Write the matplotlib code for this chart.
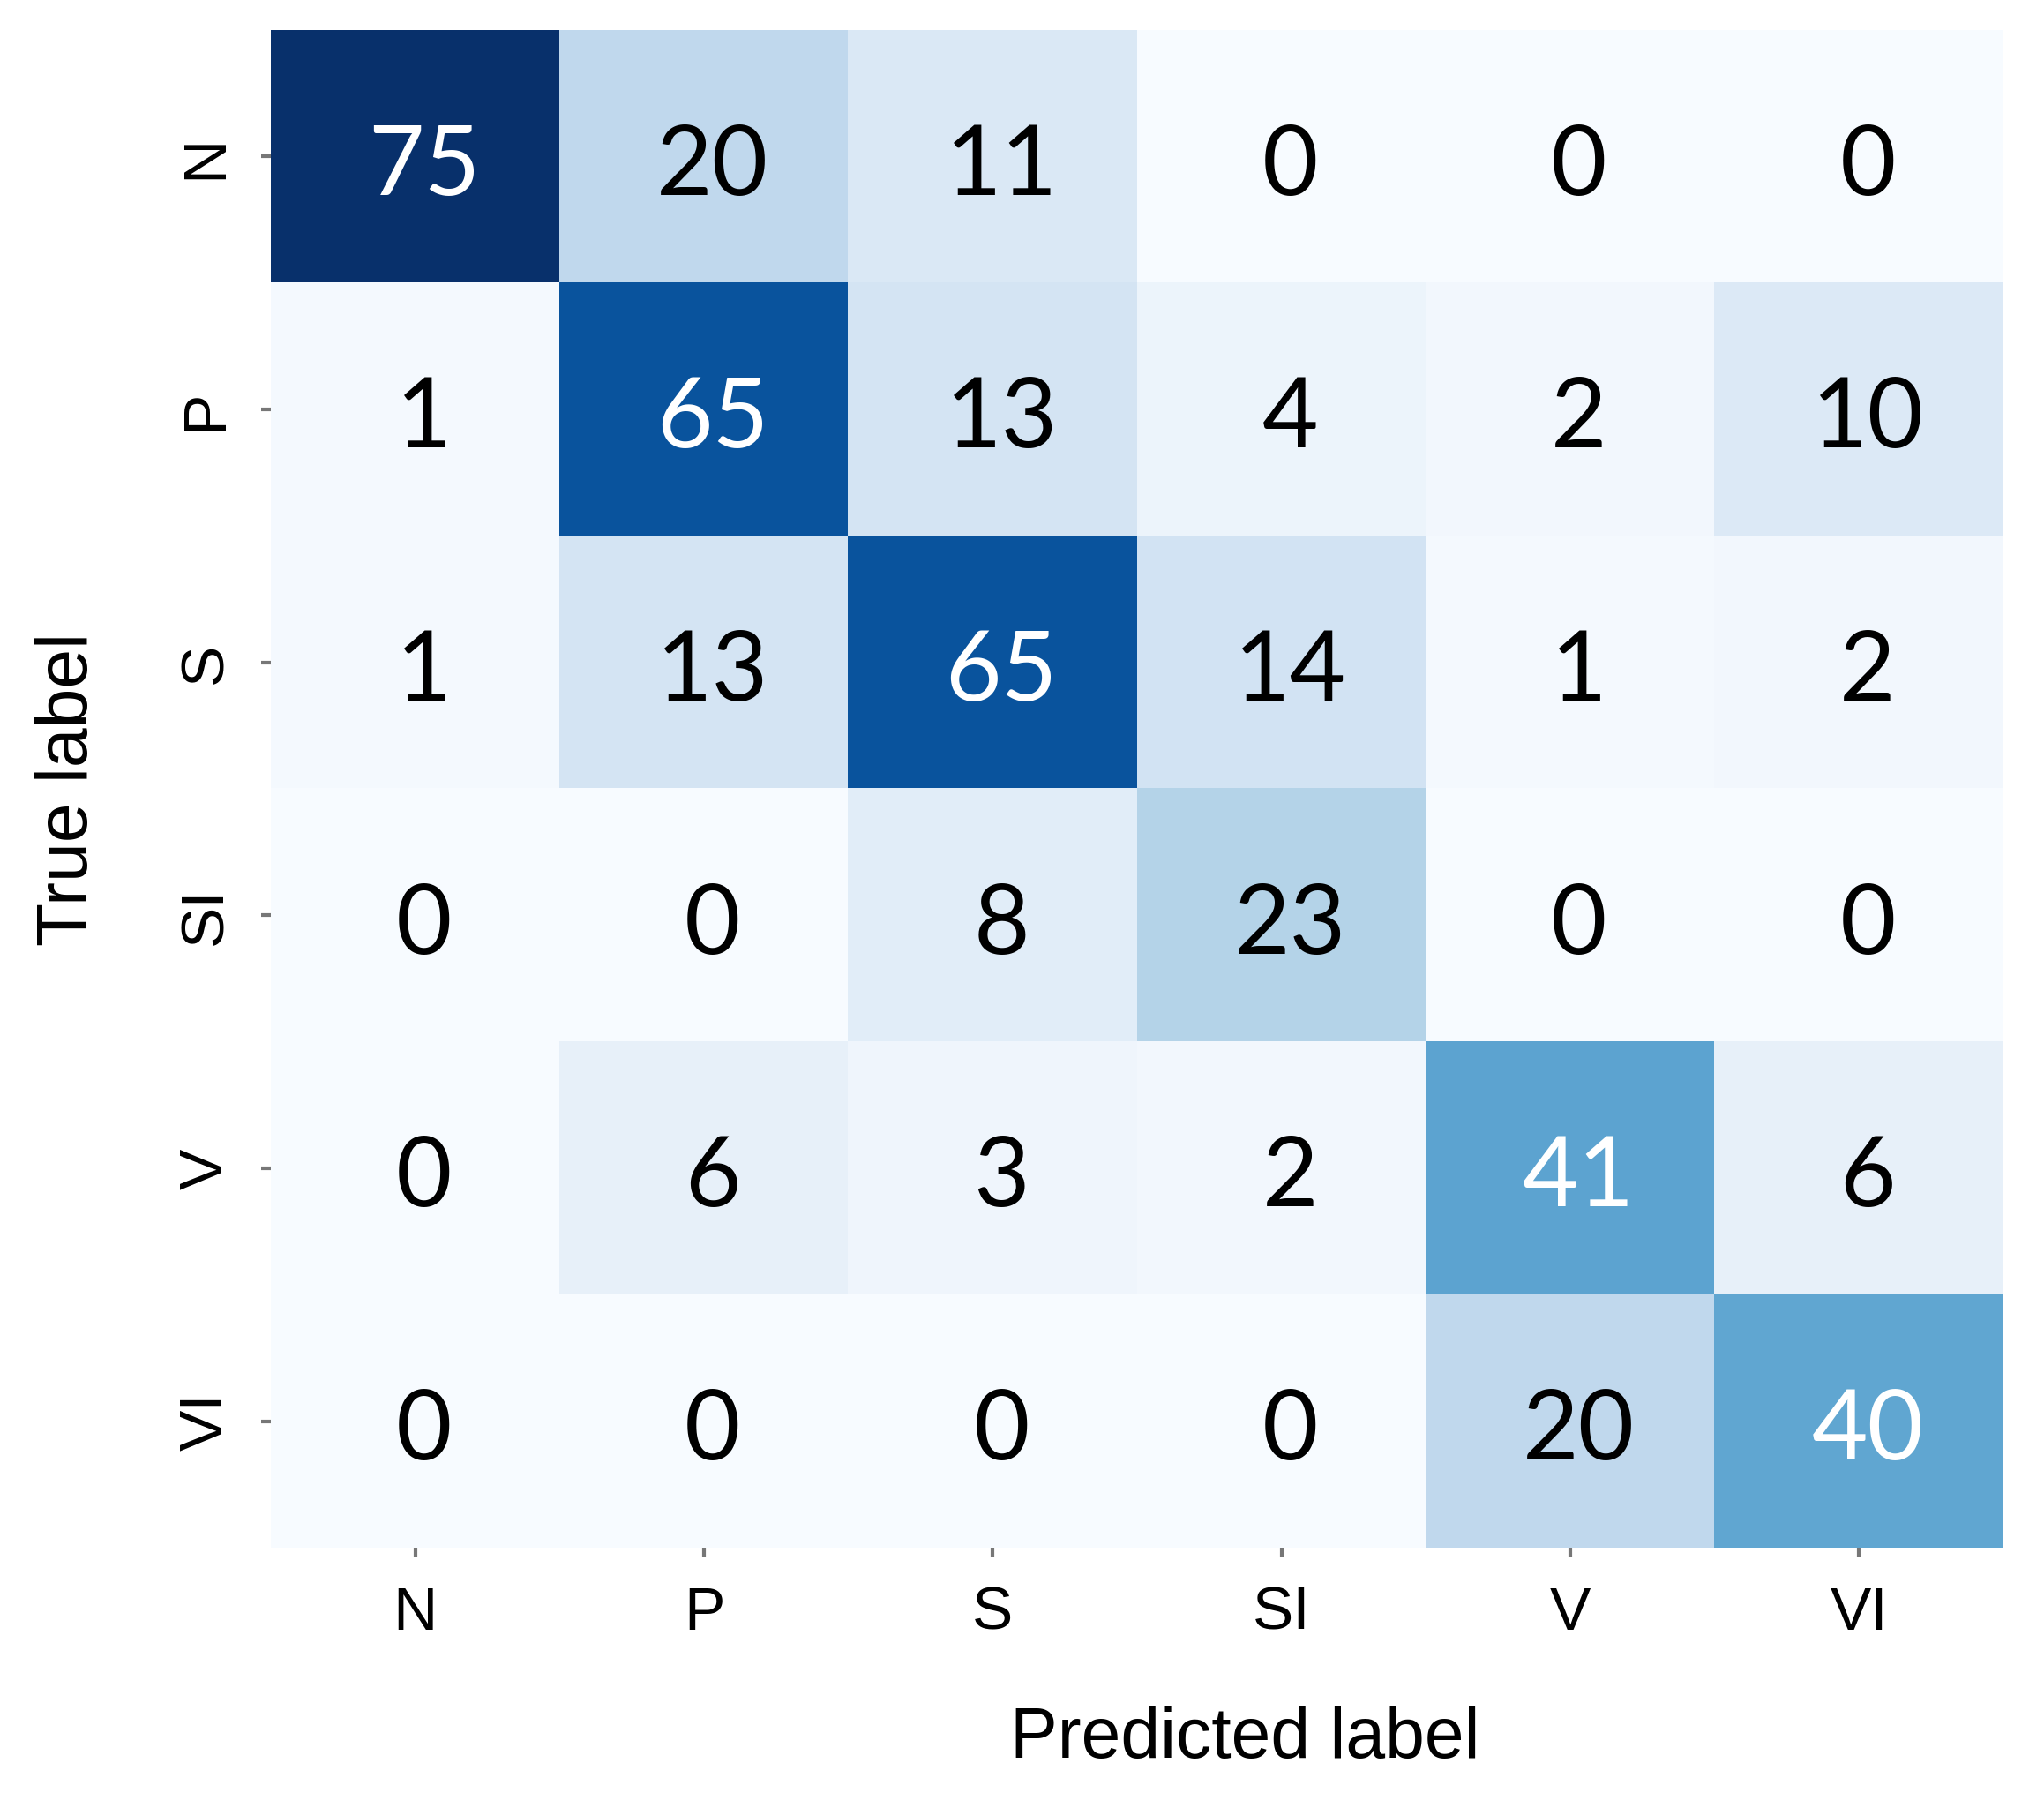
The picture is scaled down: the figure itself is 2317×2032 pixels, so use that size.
import numpy as np
import matplotlib
matplotlib.use("Agg")
import matplotlib.pyplot as plt

# class labels and confusion matrix counts (rows = true, cols = predicted)
labels = ["N", "P", "S", "SI", "V", "VI"]
row_N = [75, 20, 11, 0, 0, 0]
row_P = [1, 65, 13, 4, 2, 10]
row_S = [1, 13, 65, 14, 1, 2]
row_SI = [0, 0, 8, 23, 0, 0]
row_V = [0, 6, 3, 2, 41, 6]
row_VI = [0, 0, 0, 0, 20, 40]

cm = np.array([row_N, row_P, row_S, row_SI, row_V, row_VI])

W, H = 2317, 2033
fig = plt.figure(figsize=(W / 100, H / 100), dpi=100)
ax = fig.add_axes([307 / W, 1 - 1755 / H, (2271 - 307) / W, (1755 - 35) / H])

ax.imshow(cm, cmap="Blues", vmin=0, vmax=cm.max(), aspect="auto",
          interpolation="nearest")

thresh = (cm.max() + cm.min()) / 2
for i in range(cm.shape[0]):
    for j in range(cm.shape[1]):
        ax.text(j + 0.03, i + 0.04, str(cm[i, j]), ha="center", va="center",
                fontsize=79, family="Lato",
                color="white" if cm[i, j] > thresh else "black")

for s in ax.spines.values():
    s.set_visible(False)

ax.set_xticks(range(len(labels)))
ax.set_yticks(range(len(labels)))
ax.set_xticklabels(labels, fontsize=50, family="Liberation Sans")
ax.set_yticklabels(labels, fontsize=50, family="Liberation Sans",
                   rotation=90, va="center")
ax.tick_params(axis="both", length=8, width=3, color="#777777")
ax.tick_params(axis="x", pad=22)
ax.tick_params(axis="y", pad=22)

fig.text(1411 / W, 1 - 1992 / H, "Predicted label", ha="center",
         va="baseline", fontsize=58, family="Liberation Sans")
fig.text(78 / W, 1 - 895 / H, "True label", ha="center", va="center",
         rotation=90, fontsize=58, family="Liberation Sans")

fig.savefig("out.png", dpi=100, facecolor="white")
